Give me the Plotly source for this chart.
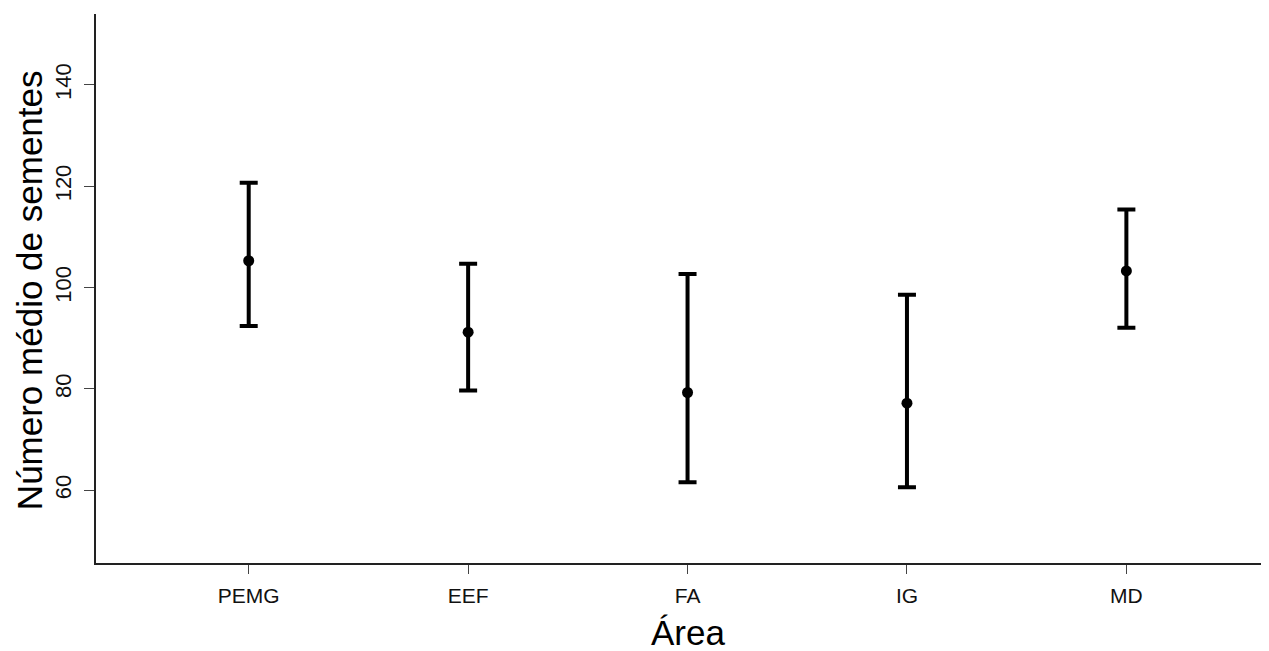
import plotly.graph_objects as go

areas = ["PEMG", "EEF", "FA", "IG", "MD"]
media = [105.3, 91.2, 79.3, 77.2, 103.3]
limite_superior = [120.7, 104.7, 102.7, 98.6, 115.4]
limite_inferior = [92.4, 79.7, 61.6, 60.6, 92.1]

y_ticks = [60, 80, 100, 120, 140]

err_plus = [u - m for u, m in zip(limite_superior, media)]
err_minus = [m - l for m, l in zip(media, limite_inferior)]
xpos = list(range(len(areas)))

# page body has an 8px margin; figure sized so it fills the window exactly
W, H = 1261, 643
L, T, B, R = 88, 6, 88, 0

fig = go.Figure()
fig.add_trace(go.Scatter(
    x=xpos, y=media, mode="markers",
    marker=dict(color="black", size=11, symbol="circle"),
    error_y=dict(type="data", symmetric=False, array=err_plus, arrayminus=err_minus,
                 color="black", thickness=4, width=9),
    showlegend=False,
))

fig.update_layout(
    width=W, height=H,
    margin=dict(l=L, r=R, t=T, b=B),
    paper_bgcolor="white", plot_bgcolor="white",
    font=dict(family="Liberation Sans, Arial, sans-serif", color="black"),
    xaxis=dict(
        range=[-0.696, 4.65], tickvals=xpos, ticktext=areas,
        showline=True, linecolor="#222", linewidth=2,
        ticks="outside", ticklen=9, tickcolor="#444", tickwidth=1,
        tickfont=dict(size=21, color="#111"), ticklabelstandoff=4,
        showgrid=False, zeroline=False,
    ),
    yaxis=dict(
        range=[45.65, 154.0], tickvals=y_ticks,
        showline=True, linecolor="#222", linewidth=2,
        ticks="outside", ticklen=10, tickcolor="#444", tickwidth=1,
        tickfont=dict(size=22, color="#111"), tickangle=-90, ticklabelstandoff=4,
        showgrid=False, zeroline=False,
    ),
    annotations=[
        dict(text="Número médio de sementes", xref="paper", yref="paper",
             x=0, y=0.497, xanchor="center", yanchor="middle", xshift=-67,
             textangle=-90, showarrow=False, font=dict(size=35, color="black")),
        dict(text="Área", xref="paper", yref="paper",
             x=(688.3 - 96) / (1269 - 96), y=0, xanchor="center", yanchor="middle",
             yshift=-69, showarrow=False, font=dict(size=35, color="black")),
    ],
)

fig.write_html("out.html")
